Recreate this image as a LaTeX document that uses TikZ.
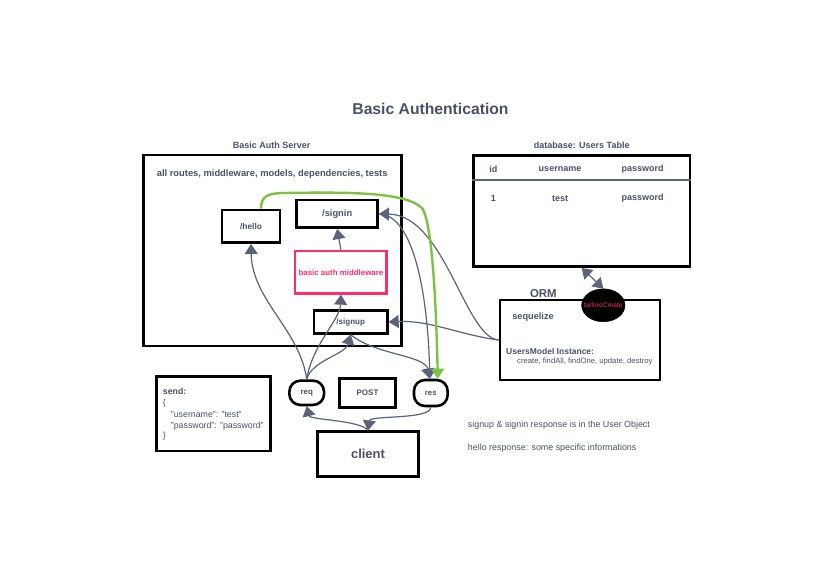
\documentclass[tikz,border=0pt]{standalone}
\usepackage{fontspec}
\setmainfont{Liberation Sans}
\usetikzlibrary{arrows.meta,shapes.geometric,calc}
\definecolor{txt}{HTML}{4B5066}
\definecolor{conncol}{HTML}{5C6278}
\definecolor{pinkc}{HTML}{FF2D6B}
\definecolor{greenc}{HTML}{7DC242}
\newcommand\fsz[1]{\fontsize{#1}{#1}\selectfont}
\tikzset{
  box/.style={draw=black, line width=2.6pt, inner sep=0pt, text=txt, font=\bfseries},
  pill/.style={box, rounded corners=11pt},
  lbl/.style={inner sep=0pt, text=txt},
  tip/.tip={Triangle[width=13pt,length=10pt]},
  conn/.style={draw=conncol, line width=1.2pt, -tip},
  gconn/.style={draw=greenc, line width=2.4pt, -tip},
}
\begin{document}
\begin{tikzpicture}[x=1pt,y=-1pt]
\useasboundingbox (0,0) rectangle (834,575);
\fill[white] (0,0) rectangle (834,575);

% title
\node[lbl, font=\bfseries\fsz{15.7}] (title) at (430.5,109) {Basic Authentication};

% server
\node[lbl, font=\bfseries\fsz{9}] (srvlbl) at (271.7,145.7) {Basic Auth Server};
\node[box, minimum width=258.4pt, minimum height=191pt] (server) at (272.5,250.5) {};
\node[lbl, font=\bfseries\fsz{9.35}] (srvtxt) at (272.2,174.3) {all routes, middleware, models, dependencies, tests};

\node[box, minimum width=58pt, minimum height=32.7pt, font=\bfseries\fsz{8.4}] (hello) at (251,226.3) {/hello};
\node[box, minimum width=81pt, minimum height=27.7pt, font=\bfseries\fsz{9.3}] (signin) at (337.2,213.9) {/signin};
\node[box, draw=pinkc, minimum width=91.7pt, minimum height=42.3pt, text=pinkc, font=\bfseries\fsz{7.9}] (mw) at (340.9,272.2) {basic auth middleware};
\node[box, minimum width=73.3pt, minimum height=22.7pt, font=\bfseries\fsz{8}] (signup) at (350.7,322) {/signup};

% database
\node[lbl, font=\bfseries\fsz{9}] (dblbl) at (581.7,145.7) {database: Users Table};
\node[box, minimum width=216.7pt, minimum height=111pt] (table) at (581.7,211.2) {};
\draw[conncol, line width=2pt] ([yshift=-26pt]table.north west) -- ([yshift=-26pt]table.north east);
\node[lbl, font=\bfseries\fsz{9}] (hid) at (493.3,169) {id};
\node[lbl, font=\bfseries\fsz{9}] (huser) at (560,169) {username};
\node[lbl, font=\bfseries\fsz{9}] (hpass) at (642.7,169) {password};
\node[lbl, font=\bfseries\fsz{9}] (rid) at (493.3,198.3) {1};
\node[lbl, font=\bfseries\fsz{9}] (ruser) at (560,198.3) {test};
\node[lbl, font=\bfseries\fsz{9}] (rpass) at (642.7,198.3) {password};

% ORM
\node[lbl, font=\bfseries\fsz{11.4}] (ormlbl) at (543.3,293.3) {ORM};
\node[box, minimum width=160pt, minimum height=80pt] (orm) at (580,340) {};
\node[lbl, font=\bfseries\fsz{9.2}] (seq) at (533,316.7) {sequelize};
\node[lbl, anchor=west, font=\bfseries\fsz{8.5}] (umi) at (506,351.7) {UsersModel Instance:};
\node[lbl, anchor=west, font=\fsz{7.7}] (meth) at (517,361.3) {create, findAll, findOne, update, destroy};
\node[ellipse, fill=black, draw=black, minimum width=43.4pt, minimum height=33pt, inner sep=0pt] (bc) at (603.3,305.3) {};
\node[lbl, text=pinkc, font=\fsz{6.6}] (bctxt) at (bc.center) {beforeCreate};

% send box
\node[box, minimum width=114pt, minimum height=74.3pt] (send) at (213.7,413.8) {};
\node[lbl, anchor=west, font=\bfseries\fsz{8.8}] (s1) at (162.7,391) {send:};
\node[lbl, anchor=west, font=\fsz{8.8}] (s2) at (162.7,403.3) {\{};
\node[lbl, anchor=west, font=\fsz{8.8}] (s3) at (170.7,414.5) {"username": "test"};
\node[lbl, anchor=west, font=\fsz{8.8}] (s4) at (170.7,426) {"password": "password"};
\node[lbl, anchor=west, font=\fsz{8.8}] (s5) at (162.7,436.7) {\}};

% req / POST / res / client
\node[pill, minimum width=34.7pt, minimum height=24.3pt, font=\bfseries\fsz{7.9}] (req) at (306.7,392.8) {req};
\node[box, minimum width=56.4pt, minimum height=29pt, font=\bfseries\fsz{8}] (post) at (367.5,392.8) {POST};
\node[pill, minimum width=33.7pt, minimum height=26pt, font=\bfseries\fsz{7.8}] (res) at (430.8,393) {res};
\node[box, minimum width=100.6pt, minimum height=45pt, font=\bfseries\fsz{13}] (client) at (368,454.2) {client};

% notes
\node[lbl, anchor=west, font=\fsz{8.9}] (n1) at (467.7,425) {signup \& signin response is in the User Object};
\node[lbl, anchor=west, font=\fsz{8.9}] (n2) at (467.7,447.7) {hello response: some specific informations};

% connectors
\draw[conn] (req.north) .. controls (300,330) and (252,300) .. (hello.south);
\draw[conn] (req.north) .. controls (312,345) and (340,320) .. (mw.south);
\draw[conn] (req.north) .. controls (312,360) and (345,355) .. (signup.south);
\draw[conn] (signup.south) .. controls (375,355) and (425,355) .. ([xshift=-1pt]res.north);
\draw[conn] (mw.north) -- (signin.south);
\draw[conn] (signin.east) .. controls (415,215) and (428,300) .. ([xshift=-1pt]res.north);
\draw[conn] (orm.west) .. controls (465,338) and (445,215) .. (signin.east);
\draw[conn] (orm.west) .. controls (460,335) and (430,320) .. (signup.east);
\draw[conn] (res.south) .. controls (430,420) and (370,415) .. (client.north);
\draw[conn] (client.north) .. controls (360,420) and (310,420) .. (req.south);
\draw[conn, tip-tip] (table.south) -- (bc.north);
\draw[gconn] ([xshift=10pt]hello.north) .. controls (261,196) and (268,193) .. (285,193)
   .. controls (350,192) and (405,192) .. (422,208)
   .. controls (432,222) and (436,300) .. ([xshift=7pt]res.north);
\end{tikzpicture}
\end{document}
